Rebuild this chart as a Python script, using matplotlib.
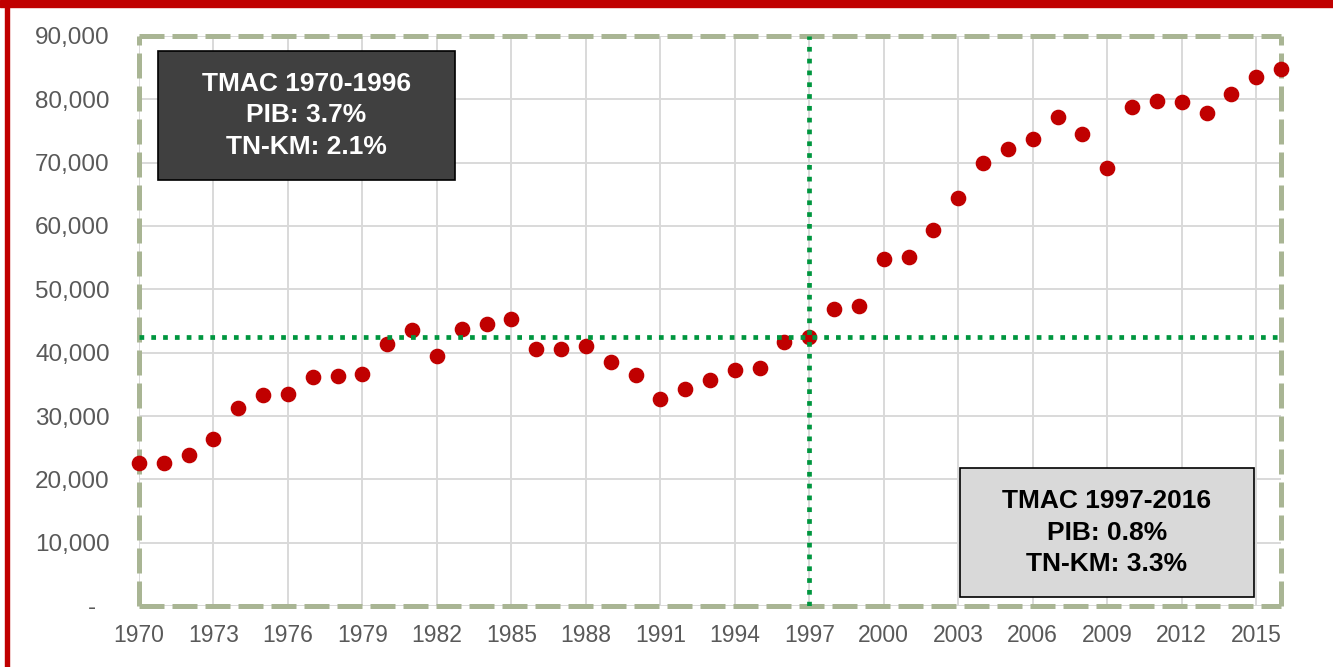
import numpy as np
import matplotlib.pyplot as plt
from matplotlib.patches import Rectangle

plt.rcParams['font.family'] = ['Liberation Sans', 'DejaVu Sans']

# data
years = list(range(1970, 2017))
values = [22600, 22600, 23800, 26300, 31300, 33300, 33500, 36100, 36300, 36700,
          41300, 43500, 39500, 43700, 44600, 45300, 40600, 40500, 41100, 38500,
          36400, 32700, 34200, 35700, 37300, 37600, 41700, 42400, 46900, 47300,
          54800, 55100, 59300, 64400, 70000, 72200, 73800, 77200, 74600, 69200,
          78800, 79800, 79500, 77800, 80800, 83500, 84800]
break_year = 1997
break_value = values[years.index(break_year)]
yticks = list(range(0, 90001, 10000))
ytick_labels = ['-  '] + ['{:,}'.format(v) for v in yticks[1:]]
xticks = list(range(1970, 2016, 3))

box1_text = 'TMAC 1970-1996\nPIB: 3.7%\nTN-KM: 2.1%'
box2_text = 'TMAC 1997-2016\nPIB: 0.8%\nTN-KM: 3.3%'

red = '#C00000'
green = '#00963F'
border = '#A9B594'
grey_txt = '#595959'

fig = plt.figure(figsize=(13.33, 6.67), dpi=100)
ax = fig.add_axes([139/1333, 1-606/667, (1281-139)/1333, (606-36)/667])

# red frame (top and left only)
fig.patches.append(Rectangle((0, 1-7/667), 1, 7/667, transform=fig.transFigure,
                             color=red, zorder=0))
fig.patches.append(Rectangle((5/1333, 0), 4/1333, 1, transform=fig.transFigure,
                             color=red, zorder=0))

ax.set_xlim(1970, 2016)
ax.set_ylim(0, 90000)
ax.set_xticks(xticks)
ax.set_yticks(yticks)
ax.set_yticklabels(ytick_labels)
ax.tick_params(axis='both', length=0, colors=grey_txt)
ax.tick_params(axis='y', pad=21, labelsize=17.5)
ax.tick_params(axis='x', pad=13, labelsize=16.5)
ax.grid(True, color='#D9D9D9', linewidth=1.4, zorder=0)
ax.set_axisbelow(True)
for s in ax.spines.values():
    s.set_color(border)
    s.set_linewidth(3.6)
    s.set_linestyle((0, (5, 1.6)))
    s.set_capstyle('butt')

ax.scatter(years, values, s=105, color=red, zorder=3, clip_on=False)

ax.axhline(break_value, color=green, linewidth=3.4, linestyle=(0, (1, 1.5)), zorder=4)
ax.axvline(break_year, color=green, linewidth=3.4, linestyle=(0, (1, 1.5)), zorder=4)

# annotation boxes
ax.add_patch(Rectangle((158/1333, 1-180/667), (455-158)/1333, (180-51)/667,
                       transform=fig.transFigure, facecolor='#404040',
                       edgecolor='black', linewidth=1.2, zorder=5))
fig.text((158+455)/2/1333, 1-(51+180)/2/667, box1_text, color='white',
         fontsize=19, fontweight='bold', ha='center', va='center',
         linespacing=1.4, zorder=6)
ax.add_patch(Rectangle((960/1333, 1-597/667), (1254-960)/1333, (597-468)/667,
                       transform=fig.transFigure, facecolor='#D9D9D9',
                       edgecolor='black', linewidth=1.2, zorder=5))
fig.text((960+1254)/2/1333, 1-(468+597)/2/667, box2_text, color='black',
         fontsize=19, fontweight='bold', ha='center', va='center',
         linespacing=1.4, zorder=6)

fig.savefig('out.png', dpi=100)
